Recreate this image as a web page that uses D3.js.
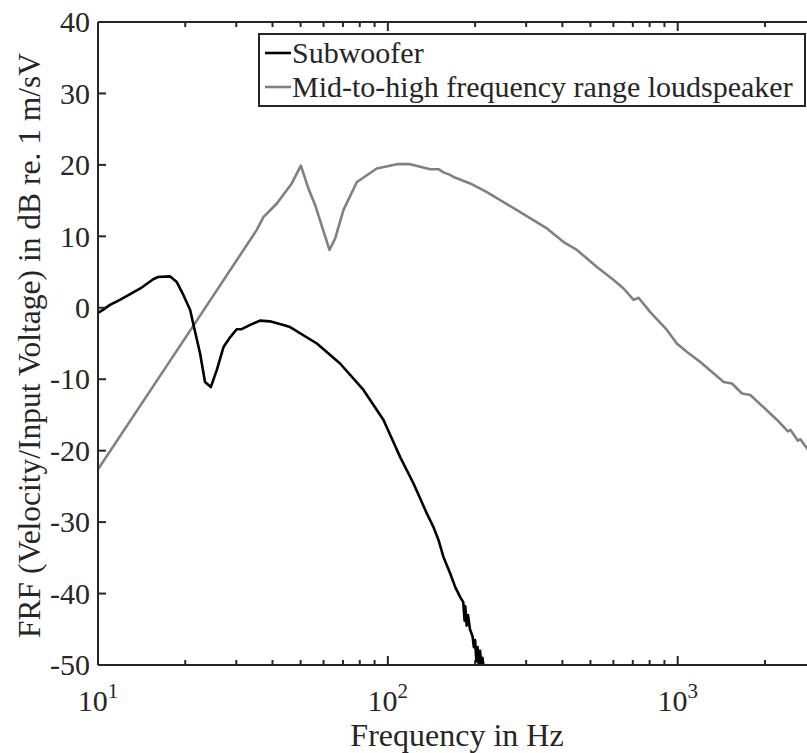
<!DOCTYPE html>
<html>
<head>
<meta charset="utf-8">
<script src="https://cdn.jsdelivr.net/npm/d3@7"></script>
<style>
  body { margin: 0; background: #fff; }
  text { font-family: "Liberation Serif", "Times New Roman", serif; fill: #262626; }
</style>
</head>
<body>
<div id="chart"></div>
<script>
// subwoofer response (Hz, dB)
const subFreq = [10, 10.4, 11.0, 11.9, 14.0, 15.5, 16.1, 17.7, 18.7, 19.7, 20.8, 21.3, 22.5, 23.4, 24.5, 25.7, 27.1, 28.6, 30.1, 31.3, 33.5, 36.2, 39.2, 43.6, 46, 56.9, 68.4, 82.4, 96.6, 104.5, 110.3, 122.6, 129.3, 136.3, 143.7, 149.5, 155.6, 164.1, 170.8, 177.7, 182, 184, 185, 187, 189, 192, 196, 198, 200, 202, 204, 206, 208, 210, 212, 214]
const subDb = [-0.7, -0.3, 0.4, 1.1, 2.7, 4.0, 4.3, 4.4, 3.6, 1.8, -0.3, -2.2, -6.4, -10.4, -11.1, -8.7, -5.5, -4.1, -3.0, -3.0, -2.4, -1.8, -1.9, -2.4, -2.7, -5.0, -7.8, -11.5, -15.7, -18.8, -20.9, -24.6, -26.7, -28.8, -30.7, -32.5, -34.9, -37.2, -39.1, -40.5, -41.2, -43.8, -41.8, -44.5, -43.0, -45.0, -46.0, -47.5, -46.5, -49.5, -47.5, -50.2, -48.0, -50.2, -49.0, -50.2]

// mid-to-high range loudspeaker response (Hz, dB)
const midFreq = [10, 22.5, 35.3, 37.2, 41.4, 46.6, 50.1, 53.2, 56.1, 62.9, 65.8, 70.3, 78.2, 91.6, 107.4, 119.4, 140, 149.5, 155.6, 164, 168.5, 192.4, 219.6, 250.6, 286.2, 353.9, 403.9, 449, 526.4, 601, 650.6, 704.5, 733, 804, 918, 993, 1077, 1197, 1441, 1539, 1667, 1781, 2202, 2400, 2450, 2600, 2650, 2794, 3000]
const midDb = [-22.6, -1.1, 10.9, 12.7, 14.6, 17.4, 19.9, 16.7, 14.4, 8.1, 9.7, 13.7, 17.6, 19.5, 20.1, 20.1, 19.4, 19.4, 18.95, 18.6, 18.3, 17.4, 16.2, 14.8, 13.4, 11.1, 9.2, 8.1, 5.7, 3.9, 2.7, 1.1, 1.4, -0.6, -3.1, -5.0, -6.2, -7.6, -10.4, -10.6, -12.0, -12.2, -15.7, -17.3, -17.1, -18.6, -18.4, -19.7, -21.0]

const seriesNames = ['Subwoofer', 'Mid-to-high frequency range loudspeaker']
const seriesColors = ['#000000', '#808080']
const yTicks = [-50, -40, -30, -20, -10, 0, 10, 20, 30, 40]
const xMajor = [10, 100, 1000]
const xMinor = [20, 30, 40, 50, 60, 70, 80, 90, 200, 300, 400, 500, 600, 700, 800, 900, 2000]

const width = 807
const height = 753
const plotLeft = 98, plotRight = 816, plotTop = 22, plotBottom = 665

const svg = d3.select('#chart').append('svg')
  .attr('width', width)
  .attr('height', height)

const x = d3.scaleLog().domain([10, 3000]).range([plotLeft, plotRight])
const y = d3.scaleLinear().domain([-50, 40]).range([plotBottom, plotTop])

svg.append('clipPath').attr('id', 'plotclip')
  .append('rect')
  .attr('x', plotLeft).attr('y', plotTop)
  .attr('width', plotRight - plotLeft).attr('height', plotBottom - plotTop)

const line = d3.line().x(d => x(d[0])).y(d => y(d[1]))

const plot = svg.append('g').attr('clip-path', 'url(#plotclip)')
plot.append('path')
  .datum(midFreq.map((f, i) => [f, midDb[i]]))
  .attr('fill', 'none')
  .attr('stroke', seriesColors[1])
  .attr('stroke-width', 2.6)
  .attr('stroke-linejoin', 'round')
  .attr('d', line)
plot.append('path')
  .datum(subFreq.map((f, i) => [f, subDb[i]]))
  .attr('fill', 'none')
  .attr('stroke', seriesColors[0])
  .attr('stroke-width', 2.6)
  .attr('stroke-linejoin', 'round')
  .attr('d', line)

// axes, MATLAB box style with inward ticks
const axisColor = '#262626'
const axes = svg.append('g')
axes.append('line').attr('x1', plotLeft).attr('x2', plotRight).attr('y1', plotBottom).attr('y2', plotBottom)
axes.append('line').attr('x1', plotLeft).attr('x2', plotRight).attr('y1', plotTop).attr('y2', plotTop)
axes.append('line').attr('x1', plotLeft).attr('x2', plotLeft).attr('y1', plotTop).attr('y2', plotBottom)
axes.append('line').attr('x1', plotRight).attr('x2', plotRight).attr('y1', plotTop).attr('y2', plotBottom)

yTicks.forEach(t => {
  axes.append('line').attr('x1', plotLeft).attr('x2', plotLeft + 8).attr('y1', y(t)).attr('y2', y(t))
  axes.append('line').attr('x1', plotRight).attr('x2', plotRight - 8).attr('y1', y(t)).attr('y2', y(t))
  svg.append('text')
    .attr('x', plotLeft - 8).attr('y', y(t))
    .attr('dy', '0.34em')
    .attr('text-anchor', 'end')
    .style('font-size', '30px')
    .text(t)
})

xMajor.forEach(t => {
  axes.append('line').attr('x1', x(t)).attr('x2', x(t)).attr('y1', plotBottom).attr('y2', plotBottom - 9)
  axes.append('line').attr('x1', x(t)).attr('x2', x(t)).attr('y1', plotTop).attr('y2', plotTop + 9)
  const lab = svg.append('text')
    .attr('x', x(t)).attr('y', plotBottom + 46)
    .attr('text-anchor', 'middle')
    .style('font-size', '30px')
  lab.append('tspan').text('10')
  lab.append('tspan').attr('dy', -13).style('font-size', '21px').text(Math.round(Math.log10(t)))
})
xMinor.forEach(t => {
  axes.append('line').attr('x1', x(t)).attr('x2', x(t)).attr('y1', plotBottom).attr('y2', plotBottom - 5)
  axes.append('line').attr('x1', x(t)).attr('x2', x(t)).attr('y1', plotTop).attr('y2', plotTop + 5)
})
axes.selectAll('line').attr('stroke', axisColor).attr('stroke-width', 2)

svg.append('text')
  .attr('x', (plotLeft + plotRight) / 2).attr('y', 746)
  .attr('text-anchor', 'middle')
  .style('font-size', '32px')
  .text('Frequency in Hz')

svg.append('text')
  .attr('transform', `translate(40, ${(plotTop + plotBottom) / 2 + 2}) rotate(-90)`)
  .attr('text-anchor', 'middle')
  .style('font-size', '31.5px')
  .text('FRF (Velocity/Input Voltage) in dB re. 1 m/sV')

// legend
const legend = svg.append('g')
legend.append('rect')
  .attr('x', 259).attr('y', 34)
  .attr('width', 546).attr('height', 72)
  .attr('fill', '#fff')
  .attr('stroke', axisColor)
  .attr('stroke-width', 2)
seriesNames.forEach((name, i) => {
  const ly = 53 + i * 34
  legend.append('line')
    .attr('x1', 265).attr('x2', 291).attr('y1', ly).attr('y2', ly)
    .attr('stroke', seriesColors[i]).attr('stroke-width', 2.6)
  legend.append('text')
    .attr('x', 292).attr('y', ly)
    .attr('dy', '0.33em')
    .style('font-size', '30px')
    .text(name)
})
</script>
</body>
</html>
